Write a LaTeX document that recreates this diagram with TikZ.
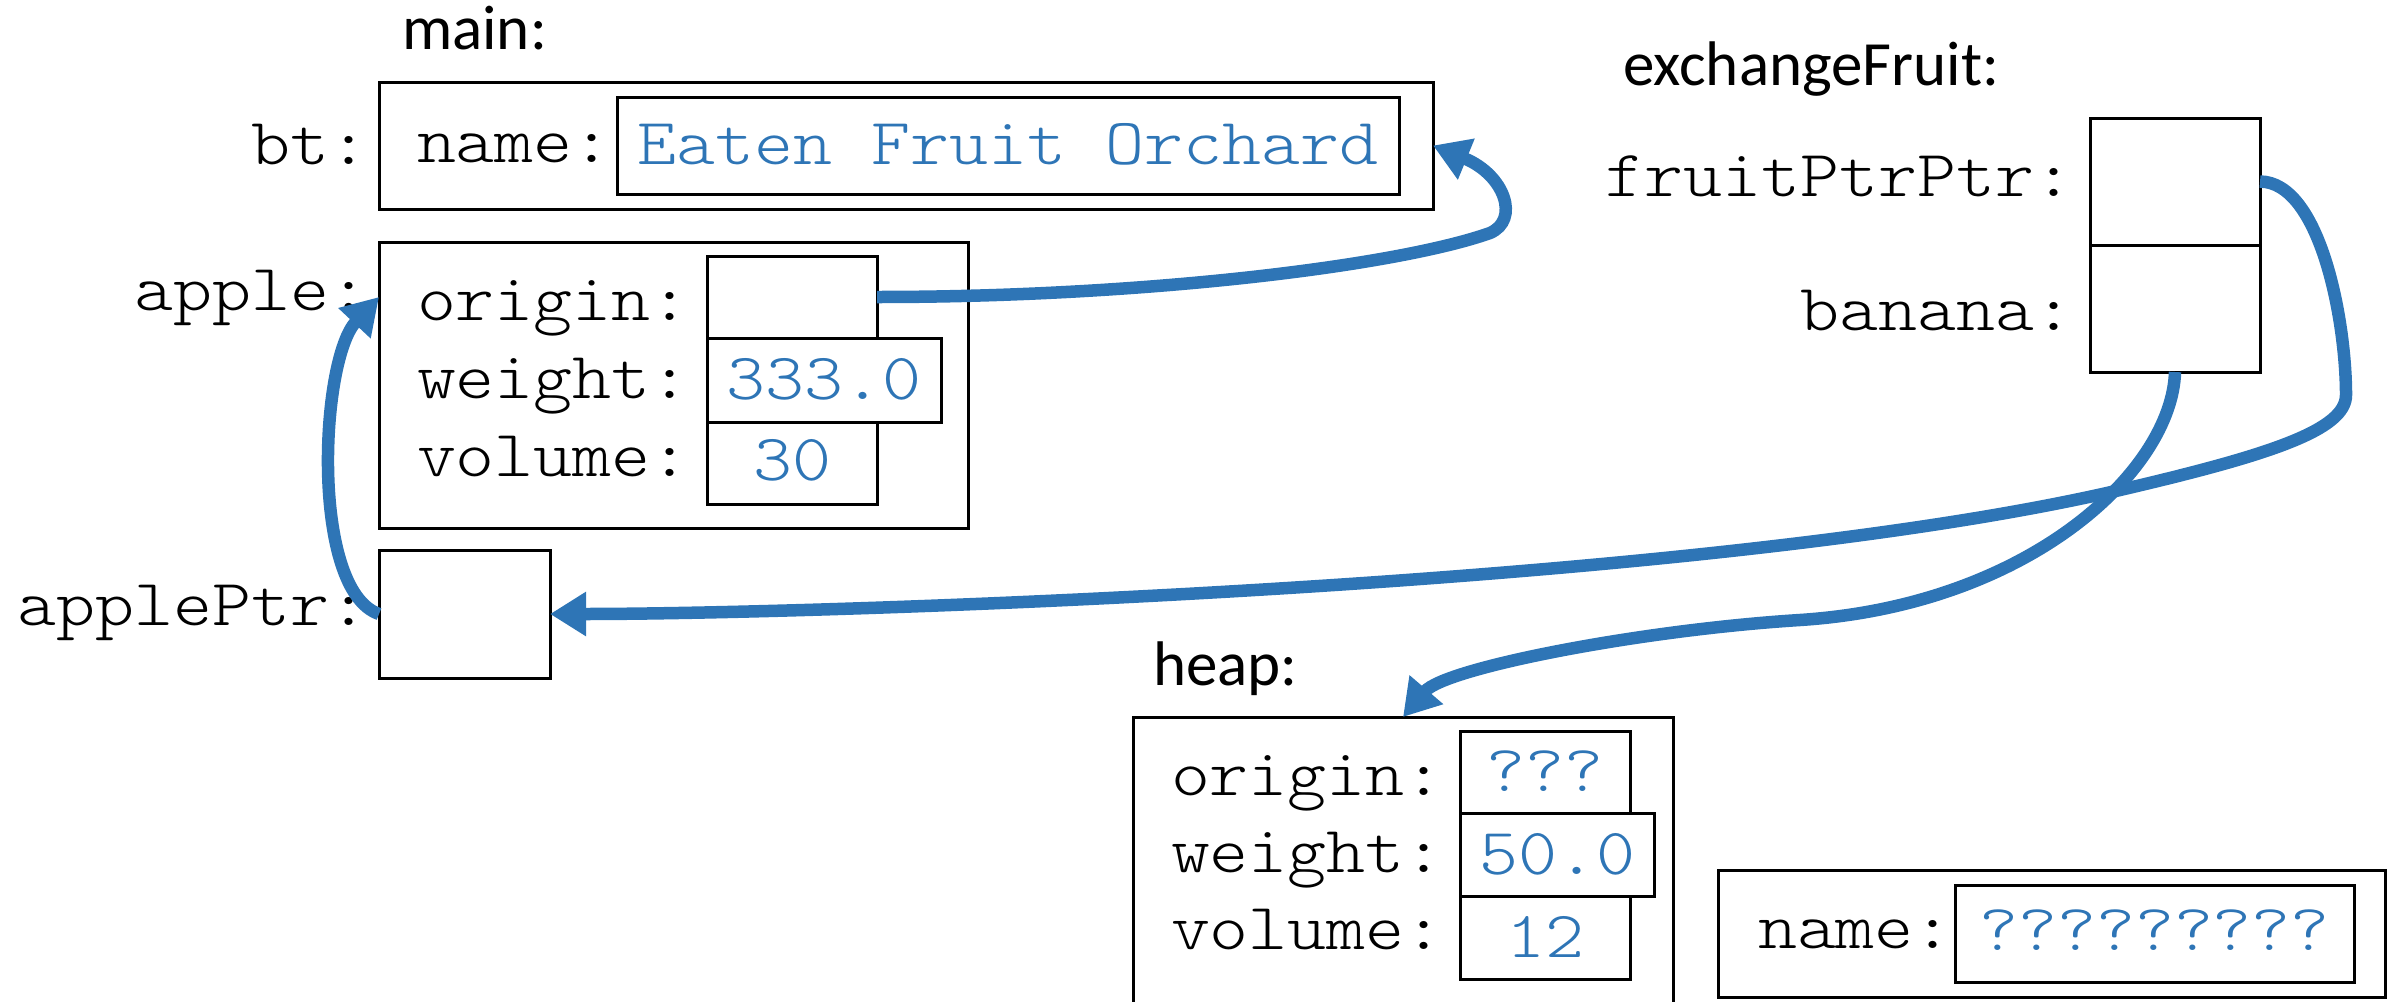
\documentclass[tikz,border=0pt]{standalone}
\usepackage{fontspec}
\setmainfont{Carlito}
\newfontfamily\cmono{lmmonolt10-regular.otf}[FakeStretch=1.125]
\usetikzlibrary{arrows.meta}
\definecolor{ablue}{HTML}{2E75B6}
\tikzset{
  box/.style={draw, line width=3pt, inner sep=0pt, outer sep=0pt},
  lbl/.style={font=\cmono\fontsize{66}{70}\selectfont, inner sep=0pt, outer sep=0pt},
  val/.style={lbl, text=ablue},
  hd/.style={font=\fontsize{63}{70}\selectfont, inner sep=0pt, outer sep=0pt},
  ptr/.style={draw=ablue, line width=12.5pt, -{Triangle[length=36pt,width=42pt]}},
}
\begin{document}
\begin{tikzpicture}[x=1pt,y=-1pt]
\useasboundingbox (0,0) rectangle (2387,1001);
\clip (0,0) rectangle (2387,1001);
% main frame
\node[hd, anchor=base west] (tmain) at (402,49) {main:};
\node[box, minimum width=1054pt, minimum height=127pt] (bt) at (906,145.5) {};
\node[box, minimum width=782pt, minimum height=97pt] (btname) at (1008,145.5) {};
\node[lbl, anchor=base east] (lbt) at (368,164) {bt:};
\node[lbl, anchor=base west] (lname) at (417,162) {name:};
\node[val, anchor=base] (vname) at (1008,164) {Eaten Fruit Orchard};

\node[box, minimum width=589pt, minimum height=286pt] (apple) at (673.5,385) {};
\node[box, minimum width=170pt, minimum height=82pt] (aorig) at (792,297) {};
\node[box, minimum width=170pt, minimum height=82pt] (avol) at (792,463) {};
\node[box, minimum width=234pt, minimum height=84pt] (aweight) at (824,380) {};
\node[lbl, anchor=base east] (lapple) at (368,310) {apple:};
\node[lbl, anchor=base west] (lorig) at (417,320) {origin:};
\node[lbl, anchor=base west] (lweight) at (417,398) {weight:};
\node[lbl, anchor=base west] (lvol) at (417,476) {volume:};
\node[val, anchor=base] (vweight) at (824,399) {333.0};
\node[val, anchor=base] (vvol) at (792,480) {30};

\node[box, minimum width=171pt, minimum height=128pt] (appleptr) at (464.5,614) {};
\node[lbl, anchor=base east] (lappleptr) at (368,625) {applePtr:};

% exchangeFruit frame
\node[hd, anchor=base west] (tex) at (1623,85) {exchangeFruit:};
\node[box, minimum width=170pt, minimum height=127pt] (fpp) at (2175,181.5) {};
\node[box, minimum width=170pt, minimum height=127pt] (banana) at (2175,308.5) {};
\node[lbl, anchor=base east] (lfpp) at (2073,196) {fruitPtrPtr:};
\node[lbl, anchor=base east] (lbanana) at (2073,330) {banana:};

% heap
\node[hd, anchor=base west] (theap) at (1153,685) {heap:};
\node[box, minimum width=540pt, minimum height=313pt] (heap) at (1403,873.5) {};
\node[box, minimum width=170pt, minimum height=82pt] (horig) at (1545,772) {};
\node[box, minimum width=170pt, minimum height=83pt] (hvol) at (1545,937.5) {};
\node[box, minimum width=194pt, minimum height=83pt] (hweight) at (1557,854.5) {};
\node[lbl, anchor=base west] (lhorig) at (1171,795) {origin:};
\node[lbl, anchor=base west] (lhweight) at (1171,872) {weight:};
\node[lbl, anchor=base west] (lhvol) at (1171,949) {volume:};
\node[val, anchor=base] (vhorig) at (1545,791) {???};
\node[val, anchor=base] (vhweight) at (1557,874) {50.0};
\node[val, anchor=base] (vhvol) at (1545,957) {12};

\node[box, minimum width=667pt, minimum height=127pt] (nbox) at (2051.5,933.5) {};
\node[box, minimum width=399pt, minimum height=97pt] (nin) at (2154.5,933.5) {};
\node[lbl, anchor=base west] (lnname) at (1758,948) {name:};
\node[val, anchor=base] (vnname) at (2154.5,950) {?????????};

% pointers
\draw[ptr] (aorig.east) .. controls (1150,297) and (1400,265) .. (1490,233)
  .. controls (1520,220) and (1505,175) .. (bt.east);
\draw[ptr] (fpp.east) .. controls (2320,182) and (2346,320) .. (2346,395)
  .. controls (2346,430) and (2270,455) .. (2120,490)
  .. controls (1700,588) and (800,614) .. (appleptr.east);
\draw[ptr] (banana.south) .. controls (2172,470) and (2030,605) .. (1800,620)
  .. controls (1640,630) and (1445,668) .. (heap.north);
\draw[ptr] (appleptr.west) .. controls (310,590) and (320,360) .. (apple.west |- aorig.west);
\end{tikzpicture}
\end{document}
